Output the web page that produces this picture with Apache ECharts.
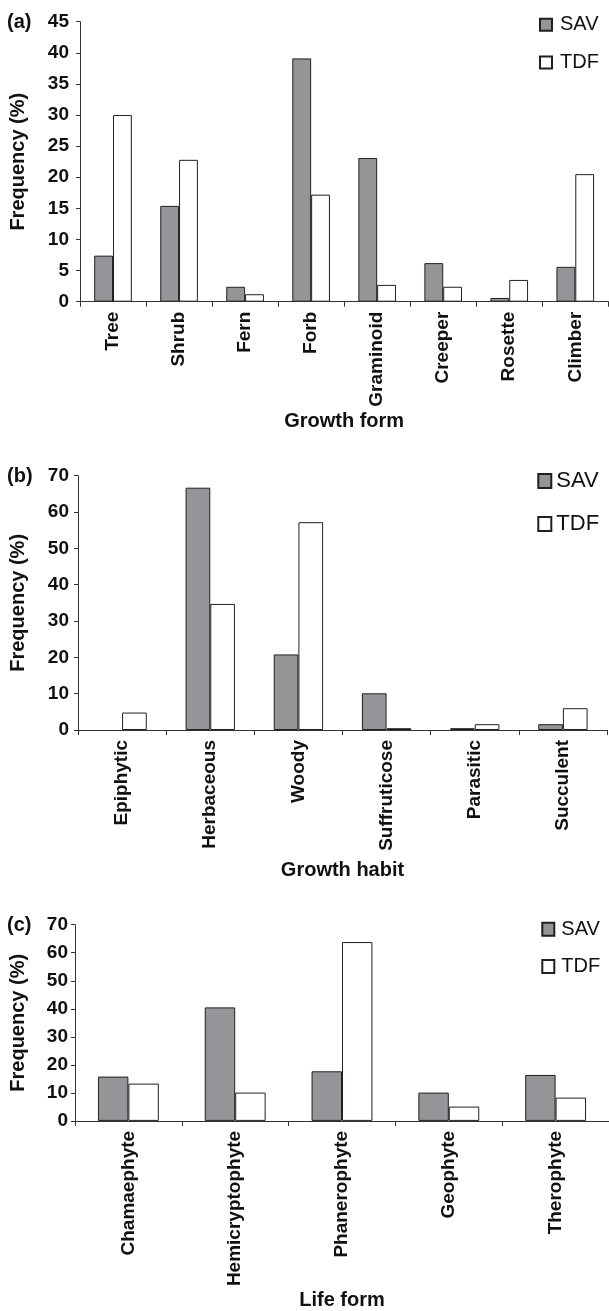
<!DOCTYPE html>
<html>
<head>
<meta charset="utf-8">
<style>
  html, body { margin: 0; padding: 0; background: #fff; }
  #chart { width: 609px; height: 1311px; }
</style>
<script src="https://cdn.jsdelivr.net/npm/echarts@6/dist/echarts.min.js"></script>
</head>
<body>
<div id="chart"></div>
<script>
// (a) growth form
const growthForms = ['Tree', 'Shrub', 'Fern', 'Forb', 'Graminoid', 'Creeper', 'Rosette', 'Climber'];
const formSAV = [7.4, 15.4, 2.4, 39.1, 23.1, 6.2, 0.6, 5.6];
const formTDF = [30.0, 22.8, 1.2, 17.2, 2.7, 2.4, 3.5, 20.5];

// (b) growth habit
const growthHabits = ['Epiphytic', 'Herbaceous', 'Woody', 'Suffruticose', 'Parasitic', 'Succulent'];
const habitSAV = [0, 66.7, 20.8, 10.1, 0.5, 1.6];
const habitTDF = [4.8, 34.7, 57.2, 0.5, 1.6, 6.0];

// (c) life form
const lifeForms = ['Chamaephyte', 'Hemicryptophyte', 'Phanerophyte', 'Geophyte', 'Therophyte'];
const lifeSAV = [15.8, 40.5, 17.7, 10.1, 16.4];
const lifeTDF = [13.3, 10.1, 63.8, 5.1, 8.3];

const seriesNames = ['SAV', 'TDF'];
const panelTags = ['(a)', '(b)', '(c)'];
const axisTitles = ['Growth form', 'Growth habit', 'Life form'];
const yTitle = 'Frequency (%)';

const FONT = '"Liberation Sans", Arial, Helvetica, sans-serif';
const INK = '#111';
const AXIS = '#333';

const panels = [
  { cats: growthForms, sav: formSAV, tdf: formTDF,
    grid: { left: 78.3, top: 21.7, width: 530, height: 280 },
    yMax: 45, yStep: 5, labelMargin: 11, yNameGap: 52, xNameGap: 110, gap: '43%',
    tagY: 22.5,
    legend: { left: 539, top: 14.7, w: 12, h: 12, gap: 17.8, size: 20, pad: 3 } },
  { cats: growthHabits, sav: habitSAV, tdf: habitTDF,
    grid: { left: 76, top: 475.7, width: 531, height: 254.3 },
    yMax: 70, yStep: 10, labelMargin: 9, yNameGap: 50, xNameGap: 130, gap: '44%',
    tagY: 476.5,
    legend: { left: 537.3, top: 470, w: 13, h: 14, gap: 21, size: 22, pad: 0 } },
  { cats: lifeForms, sav: lifeSAV, tdf: lifeTDF,
    grid: { left: 72.3, top: 924.7, width: 541.7, height: 203.3 },
    yMax: 70, yStep: 10, labelMargin: 7, yNameGap: 47, xNameGap: 162, gap: '43%',
    tagY: 925,
    legend: { left: 541.3, top: 919.3, w: 12, h: 13, gap: 17.2, size: 20, pad: 2 } }
];

const barStyles = {
  SAV: { color: '#939598', borderColor: '#231f20', borderWidth: 1 },
  TDF: { color: '#ffffff', borderColor: '#231f20', borderWidth: 1 }
};

// zero-height bars get no outline so nothing is stroked along the axis
const toBarData = values => values.map(v => (v === 0 ? { value: v, itemStyle: { borderWidth: 0 } } : v));

const option = {
  animation: false,
  backgroundColor: '#fff',
  grid: panels.map(p => Object.assign({ containLabel: false }, p.grid)),
  xAxis: panels.map((p, i) => ({
    type: 'category',
    gridIndex: i,
    data: p.cats,
    boundaryGap: true,
    name: axisTitles[i],
    nameLocation: 'middle',
    nameGap: p.xNameGap,
    nameTextStyle: { fontFamily: FONT, fontWeight: 'bold', fontSize: 20, color: INK },
    axisLine: { show: true, lineStyle: { color: AXIS, width: 1 } },
    axisTick: { show: true, inside: false, length: 5, lineStyle: { color: AXIS, width: 1 } },
    axisLabel: { interval: 0, rotate: 90, margin: 10, fontFamily: FONT, fontWeight: 'bold', fontSize: 19, color: INK },
    splitLine: { show: false }
  })),
  yAxis: panels.map((p, i) => ({
    type: 'value',
    gridIndex: i,
    min: 0,
    max: p.yMax,
    interval: p.yStep,
    name: yTitle,
    nameLocation: 'middle',
    nameGap: p.yNameGap,
    nameTextStyle: { fontFamily: FONT, fontWeight: 'bold', fontSize: 20, color: INK },
    axisLine: { show: true, lineStyle: { color: AXIS, width: 1 } },
    axisTick: { show: true, inside: false, length: 4, lineStyle: { color: AXIS, width: 1 } },
    axisLabel: { margin: p.labelMargin, fontFamily: FONT, fontWeight: 'bold', fontSize: 19, color: INK },
    splitLine: { show: false }
  })),
  legend: panels.map(p => ({
    orient: 'vertical',
    left: p.legend.left,
    top: p.legend.top,
    padding: 0,
    itemWidth: p.legend.w,
    itemHeight: p.legend.h,
    itemGap: p.legend.gap,
    icon: 'rect',
    selectedMode: false,
    data: seriesNames,
    textStyle: {
      fontFamily: FONT, fontSize: p.legend.size, lineHeight: p.legend.size,
      color: INK, padding: [0, 0, 0, p.legend.pad]
    }
  })),
  series: [],
  graphic: panels.map((p, i) => ({
    type: 'text',
    style: {
      x: 7, y: p.tagY, text: panelTags[i],
      font: 'bold 20px ' + FONT, fill: INK,
      textAlign: 'left', textVerticalAlign: 'middle'
    }
  }))
};

panels.forEach((p, i) => {
  [['SAV', p.sav], ['TDF', p.tdf]].forEach(([name, values]) => {
    option.series.push({
      type: 'bar',
      name: name,
      xAxisIndex: i,
      yAxisIndex: i,
      data: toBarData(values),
      barGap: '0%',
      barCategoryGap: p.gap,
      itemStyle: barStyles[name],
      emphasis: { disabled: true }
    });
  });
});

const chart = echarts.init(document.getElementById('chart'), null, { renderer: 'canvas' });
chart.setOption(option);
</script>
</body>
</html>
